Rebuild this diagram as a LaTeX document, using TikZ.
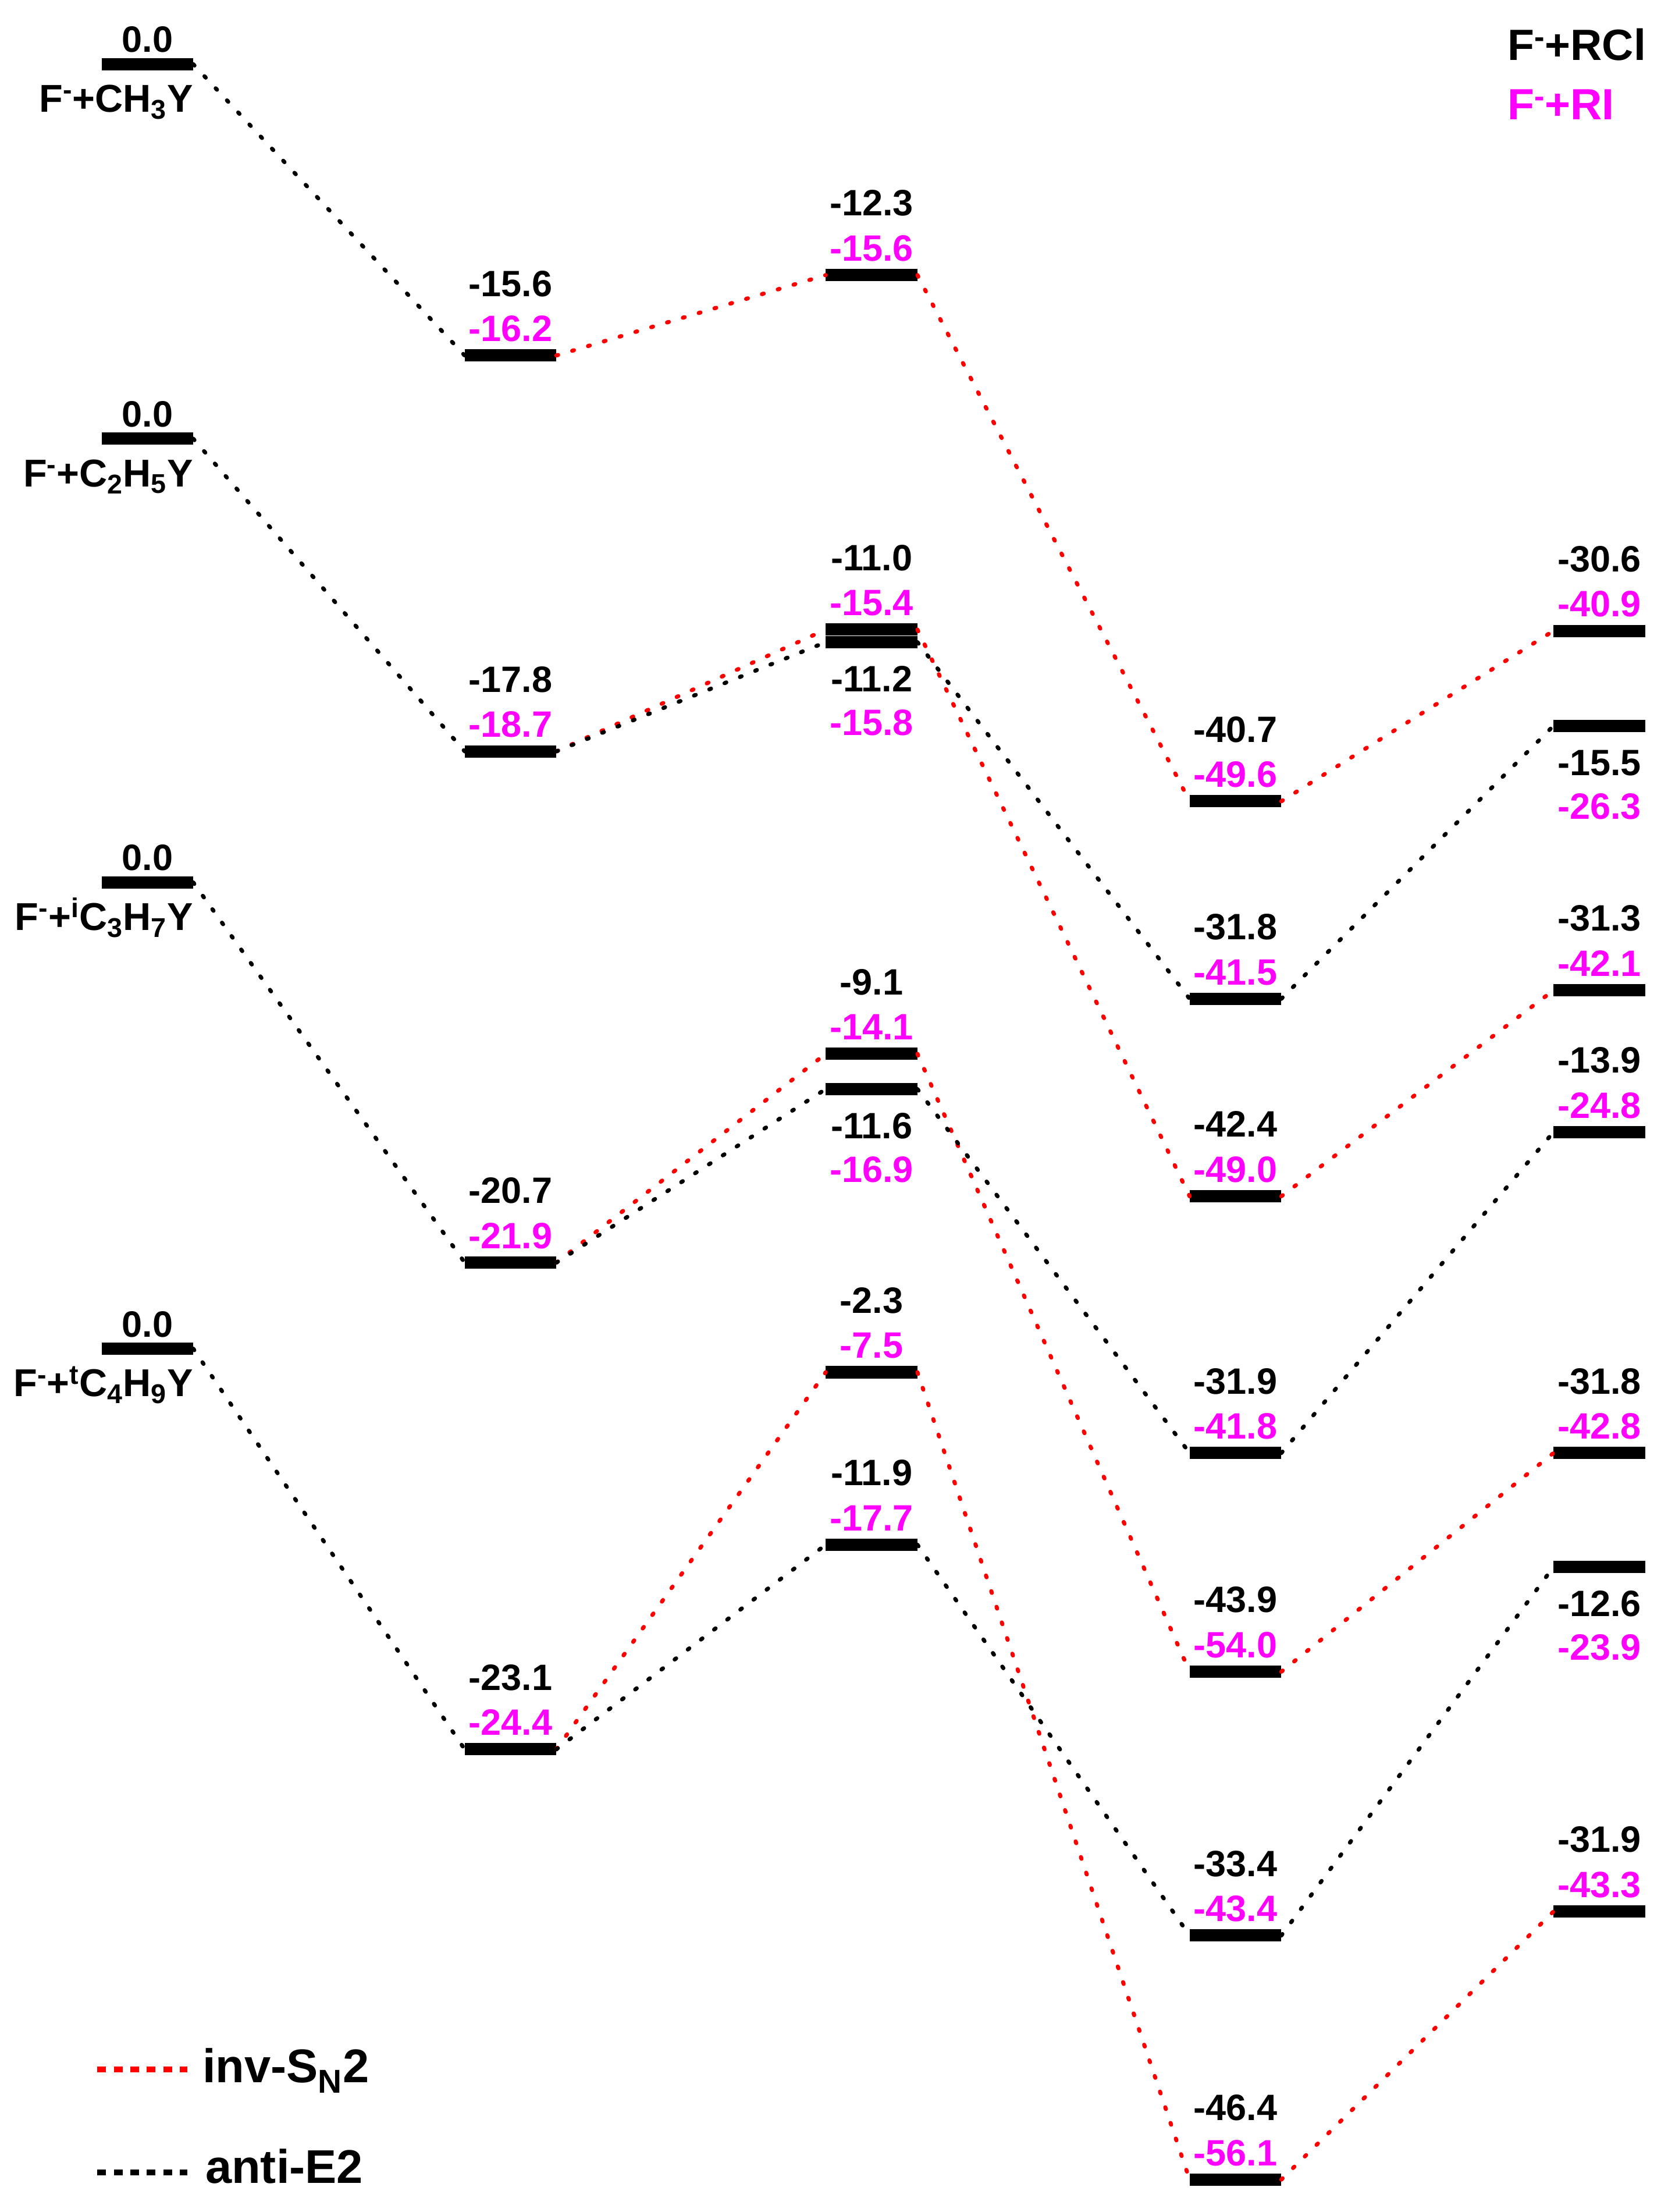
\documentclass[tikz,border=0pt]{standalone}
\usepackage{fontspec}
\setmainfont{Liberation Sans}
\definecolor{pr}{RGB}{255,0,0}
\definecolor{pm}{RGB}{255,0,255}
\begin{document}
\begin{tikzpicture}[x=1pt,y=-1pt,
  bar/.style={rectangle,fill=black,minimum width=65pt,minimum height=8.7pt,inner sep=0pt,outer sep=0pt},
  vk/.style={anchor=base,inner sep=0pt,text=black,font=\fontsize{26}{30}\selectfont\bfseries},
  vm/.style={anchor=base,inner sep=0pt,text=pm,font=\fontsize{26}{30}\selectfont\bfseries},
  lbl/.style={anchor=base east,inner sep=0pt,font=\fontsize{27.5}{32}\selectfont\bfseries},
  big/.style={anchor=base west,inner sep=0pt,font=\fontsize{31}{36}\selectfont\bfseries},
  leg/.style={anchor=base west,inner sep=0pt,font=\fontsize{33.5}{38}\selectfont\bfseries},
  sn/.style={draw=pr,line width=2.9pt,line cap=round,dash pattern=on 1.3pt off 10.4pt},
  ee/.style={draw=black,line width=2.9pt,line cap=round,dash pattern=on 1.3pt off 10.4pt},
  legsn/.style={draw=pr,line width=4pt,dash pattern=on 6.2pt off 5.5pt},
  legee/.style={draw=black,line width=4pt,dash pattern=on 6.2pt off 5.5pt}]
\useasboundingbox (0,0) rectangle (1182.7,1568);
% level with labels above
\newcommand\lvA[5]{\node[bar] (#1) at (#2,#3) {};
  \node[vk] (#1k) at (#2,#3-42) {#4};
  \node[vm] (#1m) at (#2,#3-10) {#5};}
% level with labels below
\newcommand\lvB[5]{\node[bar] (#1) at (#2,#3) {};
  \node[vk] (#1k) at (#2,#3+35) {#4};
  \node[vm] (#1m) at (#2,#3+66) {#5};}
% reactants
\newcommand\lvR[4]{\node[bar] (#1) at (#2,#3) {};
  \node[vk] (#1k) at (#2,#3-8.4) {0.0};
  \node[lbl] (#1l) at (137,#3+34) {#4};}

\lvR{r1}{104.5}{45.5}{F\textsuperscript{-}+CH\textsubscript{3}Y}
\lvR{r2}{104.5}{311}{F\textsuperscript{-}+C\textsubscript{2}H\textsubscript{5}Y}
\lvR{r3}{104.5}{625.5}{F\textsuperscript{-}+\textsuperscript{i}C\textsubscript{3}H\textsubscript{7}Y}
\lvR{r4}{104.5}{956}{F\textsuperscript{-}+\textsuperscript{t}C\textsubscript{4}H\textsubscript{9}Y}

% complexes
\lvA{m1}{362}{252}{-15.6}{-16.2}
\lvA{m2}{362}{532.6}{-17.8}{-18.7}
\lvA{m3}{362}{895}{-20.7}{-21.9}
\lvA{m4}{362}{1240}{-23.1}{-24.4}

% transition states
\lvA{t1}{618}{195}{-12.3}{-15.6}
\lvA{t2a}{618}{446.3}{-11.0}{-15.4}
\lvB{t2b}{618}{455.2}{-11.2}{-15.8}
\lvA{t3a}{618}{747}{-9.1}{-14.1}
\lvB{t3b}{618}{772}{-11.6}{-16.9}
\lvA{t4a}{618}{972.7}{-2.3}{-7.5}
\lvA{t4b}{618}{1095}{-11.9}{-17.7}

% post complexes
\lvA{q1}{876}{568}{-40.7}{-49.6}
\lvA{q2e}{876}{708}{-31.8}{-41.5}
\lvA{q2s}{876}{848}{-42.4}{-49.0}
\lvA{q3e}{876}{1030}{-31.9}{-41.8}
\lvA{q3s}{876}{1185}{-43.9}{-54.0}
\lvA{q4e}{876}{1372}{-33.4}{-43.4}
\lvA{q4s}{876}{1545}{-46.4}{-56.1}

% products
\lvA{s1}{1134}{447.2}{-30.6}{-40.9}
\lvB{s2e}{1134}{514.5}{-15.5}{-26.3}
\lvA{s2s}{1134}{702}{-31.3}{-42.1}
\lvA{s3e}{1134}{802.5}{-13.9}{-24.8}
\lvA{s3s}{1134}{1030}{-31.8}{-42.8}
\lvB{s4e}{1134}{1110.7}{-12.6}{-23.9}
\lvA{s4s}{1134}{1355}{-31.9}{-43.3}

% connectors
\draw[ee] (r1.east) -- (m1.west);
\draw[sn] (m1.east) -- (t1.west);
\draw[sn] (t1.east) -- (q1.west);
\draw[sn] (q1.east) -- (s1.west);

\draw[ee] (r2.east) -- (m2.west);
\draw[sn] (m2.east) -- (t2a.west);
\draw[ee] (m2.east) -- (t2b.west);
\draw[sn] (t2a.east) -- (q2s.west);
\draw[ee] (t2b.east) -- (q2e.west);
\draw[ee] (q2e.east) -- (s2e.west);
\draw[sn] (q2s.east) -- (s2s.west);

\draw[ee] (r3.east) -- (m3.west);
\draw[sn] (m3.east) -- (t3a.west);
\draw[ee] (m3.east) -- (t3b.west);
\draw[sn] (t3a.east) -- (q3s.west);
\draw[ee] (t3b.east) -- (q3e.west);
\draw[ee] (q3e.east) -- (s3e.west);
\draw[sn] (q3s.east) -- (s3s.west);

\draw[ee] (r4.east) -- (m4.west);
\draw[sn] (m4.east) -- (t4a.west);
\draw[ee] (m4.east) -- (t4b.west);
\draw[sn] (t4a.east) -- (q4s.west);
\draw[ee] (t4b.east) -- (q4e.west);
\draw[ee] (q4e.east) -- (s4e.west);
\draw[sn] (q4s.east) -- (s4s.west);

% top-right key
\node[big,text=black] (keycl) at (1068.7,42.6) {F\textsuperscript{-}+RCl};
\node[big,text=pm] (keyi) at (1068.7,84.6) {F\textsuperscript{-}+RI};

% legend
\coordinate (la1) at (69,1467);
\coordinate (la2) at (133,1467);
\coordinate (lb1) at (69,1540);
\coordinate (lb2) at (133,1540);
\draw[legsn] (la1) -- (la2);
\draw[legee] (lb1) -- (lb2);
\node[leg] (legsntext) at (143.5,1476) {inv-S\textsubscript{N}2};
\node[leg] (legeetext) at (145.5,1547.5) {anti-E2};
\end{tikzpicture}
\end{document}
